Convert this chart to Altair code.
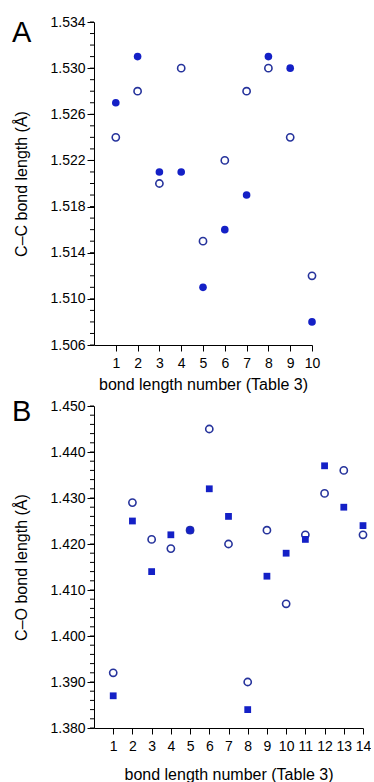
import altair as alt
import pandas as pd

# ---------------- data ----------------
numA = [1, 2, 3, 4, 5, 6, 7, 8, 9, 10]
ccFilled = [1.527, 1.531, 1.521, 1.521, 1.511, 1.516, 1.519, 1.531, 1.530, 1.508]
ccOpen = [1.524, 1.528, 1.520, 1.530, 1.515, 1.522, 1.528, 1.530, 1.524, 1.512]

numB = [1, 2, 3, 4, 5, 6, 7, 8, 9, 10, 11, 12, 13, 14]
coSquare = [1.387, 1.425, 1.414, 1.422, 1.423, 1.432, 1.426, 1.384, 1.413, 1.418,
            1.421, 1.437, 1.428, 1.424]
coOpen = [1.392, 1.429, 1.421, 1.419, 1.423, 1.445, 1.420, 1.390, 1.423, 1.407,
          1.422, 1.431, 1.436, 1.422]

yMajorA = [1.506, 1.510, 1.514, 1.518, 1.522, 1.526, 1.530, 1.534]
yMajorB = [1.380, 1.390, 1.400, 1.410, 1.420, 1.430, 1.440, 1.450]
xTicksA = numA
xTicksB = numB

# minor tick positions
yMinorA = [round(1.506 + 0.001 * i, 3) for i in range(29)]
yMinorB = [round(1.380 + 0.002 * i, 3) for i in range(36)]

FILL = "#1420c6"
STROKE = "#26339c"
FONT = "Liberation Sans"

dfA = pd.DataFrame({
    "n": numA + numA,
    "v": ccFilled + ccOpen,
    "s": ["filled"] * len(numA) + ["open"] * len(numA),
})
dfB = pd.DataFrame({
    "n": numB + numB,
    "v": coOpen + coSquare,
    "s": ["open"] * len(numB) + ["square"] * len(numB),
})

xTitle = "bond length number (Table 3)"


def xaxis(vals, tpad):
    return alt.Axis(values=vals, title=xTitle, tickSize=6, labelPadding=5,
                    titlePadding=tpad, labelOverlap=False, labelFontSize=14,
                    titleFontSize=16, labelBound=False, labelFlush=False)


def yaxis(vals, title):
    return alt.Axis(
        values=vals, title=title, format=".3f", tickSize=7,
        labelPadding=2, labelOverlap=False, labelFontSize=14,
        titleFontSize=16, titlePadding=20, labelBound=False, labelFlush=False,
    )


isOpen = "datum.s == 'open'"


def panel(df, xdom, ydom, xt, ymaj, ymin, ytitle, filledShape, filledSize,
          letter, lety, tpad, w, h):
    xs = alt.Scale(domain=xdom, nice=False, zero=False)
    ys = alt.Scale(domain=ydom, nice=False, zero=False)
    yax = yaxis(ymaj, ytitle)
    pts = alt.Chart(df).mark_point(filled=True, opacity=1).encode(
        x=alt.X("n:Q", scale=xs, axis=xaxis(xt, tpad)),
        y=alt.Y("v:Q", scale=ys, axis=yax),
        shape=alt.condition(isOpen, alt.value("circle"), alt.value(filledShape)),
        fill=alt.condition(isOpen, alt.value("transparent"), alt.value(FILL)),
        stroke=alt.condition(isOpen, alt.value(STROKE), alt.value(FILL)),
        strokeWidth=alt.condition(isOpen, alt.value(1.6), alt.value(0)),
        size=alt.condition(isOpen, alt.value(52), alt.value(filledSize)),
    )
    minor = alt.Chart(pd.DataFrame({"v": ymin})).mark_rule(
        color="black", strokeWidth=1
    ).encode(
        y=alt.Y("v:Q", scale=ys, axis=yax),
        x=alt.value(-4), x2=alt.value(0),
    )
    lab = alt.Chart(pd.DataFrame({"t": [letter]})).mark_text(
        fontSize=29, font=FONT, align="left", baseline="alphabetic", color="black"
    ).encode(x=alt.value(-82), y=alt.value(lety), text="t:N")
    return alt.layer(minor, pts, lab).properties(width=w, height=h)


chartA = panel(dfA, [0, 10], [1.506, 1.534], xTicksA, yMajorA, yMinorA,
               "C\u2013C bond length (\u00c5)", "circle", 58, "A", 20, 6, 218, 323)
chartB = panel(dfB, [0, 14], [1.380, 1.450], xTicksB, yMajorB, yMinorB,
               "C\u2013O bond length (\u00c5)", "square", 46, "B", 15, 13, 269, 322)

chart = alt.vconcat(chartA, chartB, spacing=6).properties(
    padding={"left": 12, "top": 15, "right": 0, "bottom": 0},
    background="white",
).configure_view(stroke=None).configure_axis(
    grid=False, domainColor="black", tickColor="black", labelColor="black",
    titleColor="black", labelFont=FONT, titleFont=FONT, titleFontWeight="normal",
    domainWidth=1, tickWidth=1, labelOverlap=False,
)

chart.save("out.html", embed_options={"renderer": "svg", "actions": False})
